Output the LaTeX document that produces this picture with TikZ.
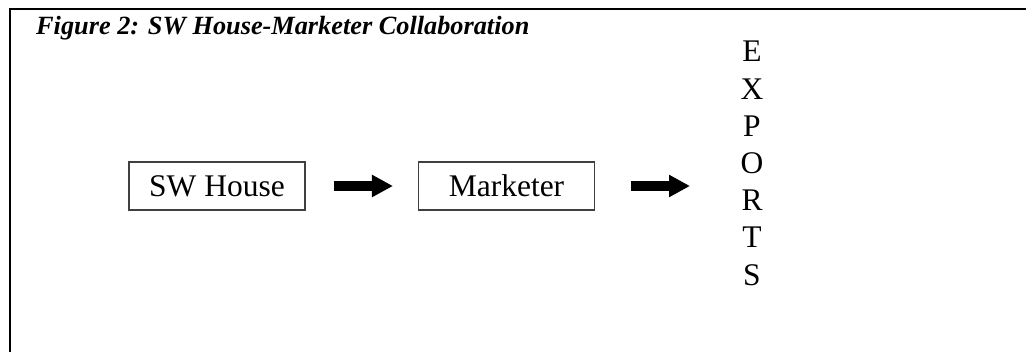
\documentclass[tikz,border=0pt]{standalone}
\usepackage{fontspec}
\setmainfont{Liberation Serif}
\usetikzlibrary{arrows.meta}
\tikzset{
  frameline/.style={line width=2.8pt, line cap=rect},
  boxnode/.style={draw=black!75, line width=1.1pt, minimum width=176pt, minimum height=48pt, inner sep=0pt, font=\fontsize{31.5}{36}\selectfont},
  letter/.style={anchor=base, inner sep=0pt, font=\fontsize{31.5}{36}\selectfont},
  blockarrow/.style={line width=10pt, -{Triangle[length=21pt, width=21pt]}},
  titletext/.style={anchor=base west, inner sep=0pt, font=\fontsize{26.3}{31}\selectfont\bfseries\itshape}
}
\begin{document}
\begin{tikzpicture}[x=1pt, y=-1pt]
\useasboundingbox (0,0) rectangle (1026,352);
\coordinate (fc) at (10,9);
\coordinate (fr) at (1026,9);
\coordinate (fb) at (10,352);
\draw[frameline] (fr) -- (fc) -- (fb);
\node[titletext] (title) at (36,35) {Figure 2: SW House-Marketer Collaboration};
\node[boxnode] (sw) at (217,186) {SW House};
\node[boxnode] (mk) at (506.5,186) {Marketer};
\draw[blockarrow] ([xshift=28pt]sw.east) -- ([xshift=-25pt]mk.west);
\coordinate (a2end) at (690,186);
\draw[blockarrow] ([xshift=36pt]mk.east) -- (a2end);
\foreach \c [count=\i from 0] in {E,X,P,O,R,T,S} {
  \node[letter] (l\i) at (752,62+37.2*\i) {\c};
}
\end{tikzpicture}
\end{document}
